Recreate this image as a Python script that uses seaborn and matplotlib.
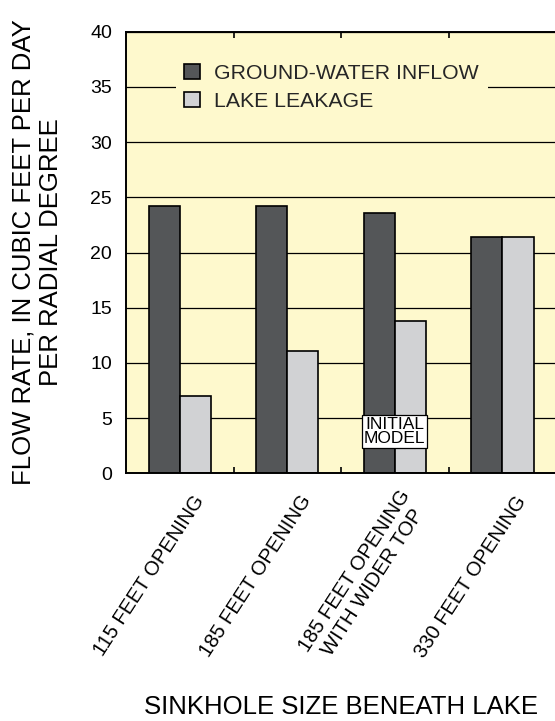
import pandas as pd
import matplotlib.pyplot as plt
from matplotlib.transforms import ScaledTranslation
import seaborn as sns

# data
openings = ["115 FEET OPENING", "185 FEET OPENING",
            "185 FEET OPENING\nWITH WIDER TOP", "330 FEET OPENING"]
inflow = [24.2, 24.2, 23.6, 21.4]
leakage = [7.0, 11.1, 13.8, 21.4]
series_names = ["GROUND-WATER INFLOW", "LAKE LEAKAGE"]
y_ticks = [0, 5, 10, 15, 20, 25, 30, 35, 40]

df = pd.DataFrame({
    "opening": openings * 2,
    "rate": inflow + leakage,
    "source": [series_names[0]] * 4 + [series_names[1]] * 4,
})

sns.set_theme(style="white")
plt.rcParams["font.family"] = ["Liberation Sans", "DejaVu Sans"]

fig = plt.figure(figsize=(5.55, 7.21), dpi=100)
ax = fig.add_axes([0.227, 0.3435, 0.775, 0.6125])
ax.set_facecolor("#FEF9CD")

sns.barplot(
    data=df, x="opening", y="rate", hue="source",
    palette=["#545658", "#D1D2D4"], saturation=1, width=0.58,
    edgecolor="black", linewidth=1.2, ax=ax,
)

# axes limits, grid, spines
ax.set_xlim(-0.5, 3.5)
ax.set_ylim(0, 40)
ax.set_yticks(y_ticks)
ax.set_axisbelow(True)
ax.yaxis.grid(True, color="black", linewidth=0.9)
ax.xaxis.grid(False)
for side in ["left", "top", "bottom"]:
    ax.spines[side].set_color("black")
    ax.spines[side].set_linewidth(1.4)
ax.spines["right"].set_visible(False)

ax.tick_params(axis="y", length=0, pad=10, labelsize=14, colors="black")
ax.set_xticks([0.5, 1.5, 2.5], minor=True)
ax.tick_params(axis="x", which="minor", direction="in", length=4.5, width=1.2,
               top=True, bottom=True, color="black")
ax.tick_params(axis="x", which="major", length=0, pad=0, labelsize=14.5, colors="black")

# rotated category labels
ax.set_xticks(range(len(openings)))
ax.set_xticklabels(openings, rotation=57, ha="right", va="center",
                   rotation_mode="anchor", multialignment="center", linespacing=1.15)
offset = ScaledTranslation(0.20, -0.24, fig.dpi_scale_trans)
for lbl in ax.get_xticklabels():
    lbl.set_transform(lbl.get_transform() + offset)

# axis titles
ax.set_ylabel("FLOW RATE, IN CUBIC FEET PER DAY\nPER RADIAL DEGREE",
              fontsize=18.5, linespacing=1.2, color="black")
ax.yaxis.set_label_coords(-0.1465, 0.5)
ax.set_xlabel("SINKHOLE SIZE BENEATH LAKE", fontsize=18.5, color="black", va="top")
ax.xaxis.set_label_coords(0.5, -0.503)

# legend
handles, labels = ax.get_legend_handles_labels()
ax.legend(handles, labels, loc="upper left", bbox_to_anchor=(0.091, 0.971),
          frameon=True, facecolor="#FEF9CD", edgecolor="none", framealpha=1,
          fancybox=False, fontsize=15.3, handlelength=0.72, handleheight=0.72,
          handletextpad=0.7, labelspacing=0.45, borderpad=0.4, title=None)

# initial model callout
ax.text(2, 3.8, "INITIAL\nMODEL", ha="center", va="center", fontsize=12.5,
        linespacing=0.9, color="black",
        bbox=dict(boxstyle="square,pad=0.1", facecolor="white",
                  edgecolor="black", linewidth=0.9))

fig.savefig("out.png", dpi=100)
